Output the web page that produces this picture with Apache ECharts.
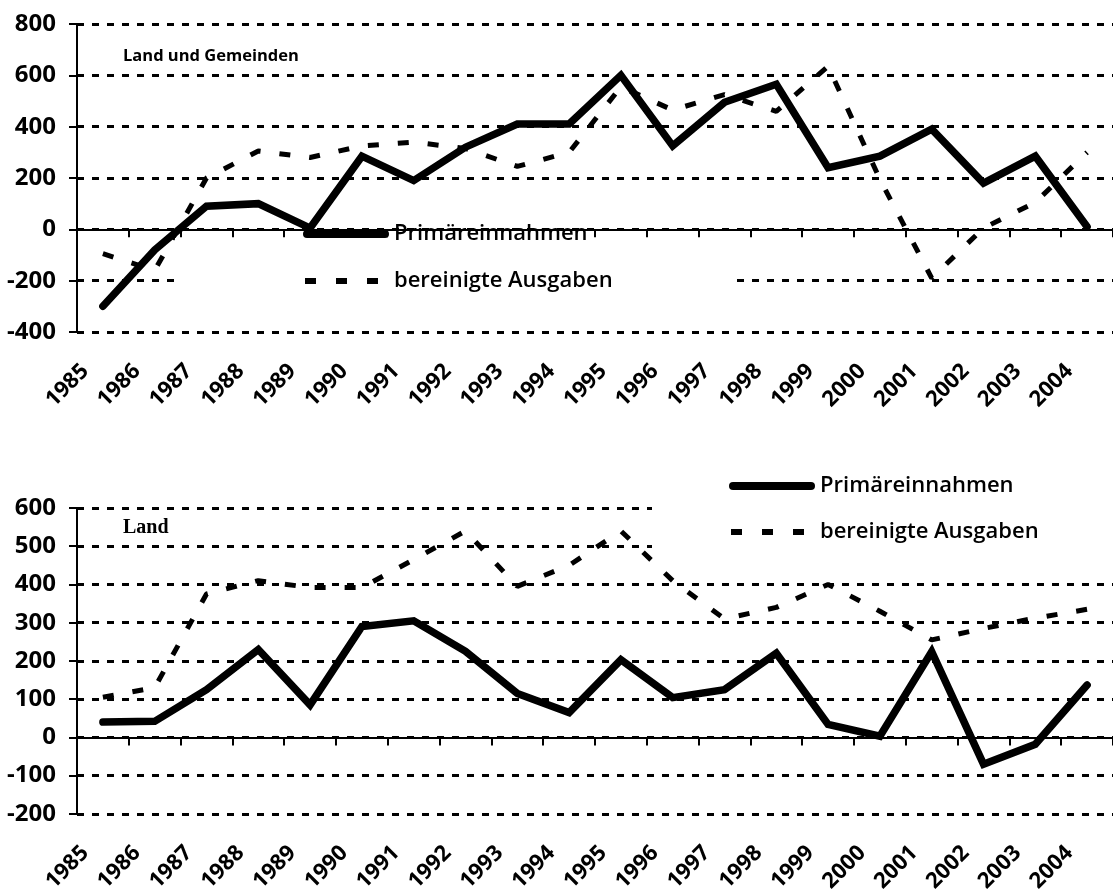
<!DOCTYPE html>
<html><head><meta charset="utf-8">
<script src="https://cdn.jsdelivr.net/npm/echarts@6/dist/echarts.min.js"></script>
<style>html,body{margin:0;padding:0;background:#fff}#c{width:1113px;height:895px}</style>
</head><body><div id="c"></div>
<script>
const years = ['1985','1986','1987','1988','1989','1990','1991','1992','1993','1994','1995','1996','1997','1998','1999','2000','2001','2002','2003','2004'];
// Land und Gemeinden
const lugIncome   = [-300, -80, 90, 100, 5, 285, 190, 320, 410, 410, 600, 325, 495, 565, 240, 285, 390, 180, 285, 10];
const lugSpending = [-95, -160, 200, 305, 280, 325, 340, 315, 245, 300, 555, 465, 525, 460, 635, 195, -190, 5, 105, 300];
// Land
const landIncome   = [40, 42, 125, 230, 85, 290, 305, 225, 115, 65, 203, 104, 125, 220, 34, 3, 224, -70, -18, 137];
const landSpending = [105, 130, 375, 410, 392, 392, 465, 540, 395, 450, 540, 410, 310, 340, 400, 330, 255, 285, 312, 335];
const seriesNames = ['Primäreinnahmen', 'bereinigte Ausgaben'];
const topAxis = {min: -400, max: 800, interval: 200};
const bottomAxis = {min: -200, max: 600, interval: 100};
const panelTitles = ['Land und Gemeinden', 'Land'];

const FONT = '"Open Sans", "DejaVu Sans", sans-serif';
const chart = echarts.init(document.getElementById('c'), null, {renderer: 'canvas'});

const solidIcon = 'path://M4,0 H82 A4,4 0 0 1 82,8 H4 A4,4 0 0 1 4,0 Z';
const dashIcon = 'path://M0,0 M2,1 h11 v6 h-11 z M33,1 h11 v6 h-11 z M64,1 h11 v6 h-11 z M86,8';

function yAx(gi, sc) {
  return {
    type: 'value', gridIndex: gi, min: sc.min, max: sc.max, interval: sc.interval,
    axisLine: {show: true, lineStyle: {color: '#000', width: 2}},
    axisTick: {show: true, length: 8, lineStyle: {color: '#000', width: 2}},
    axisLabel: {color: '#000', fontFamily: FONT, fontSize: 24, fontWeight: 'bold', margin: 21},
    splitLine: {show: true, lineStyle: {color: '#000', width: 3, type: [7, 8]}}
  };
}
function xAxes(gi, yi) {
  return [
    { type: 'category', gridIndex: gi, data: years, position: 'bottom',
      axisLine: {show: false, onZero: false}, axisTick: {show: false},
      axisLabel: {interval: 0, rotate: 45, color: '#000', fontFamily: FONT, fontSize: 22, fontWeight: 'bold',
                  margin: 18, padding: [0, 25, 0, 0]},
      splitLine: {show: false} },
    { type: 'category', gridIndex: gi, data: years, position: 'bottom',
      axisLine: {show: false, onZero: true, onZeroAxisIndex: yi},
      axisTick: {show: true, length: 8, lineStyle: {color: '#000', width: 2}},
      axisLabel: {show: false}, splitLine: {show: false} },
    { type: 'category', gridIndex: gi, data: years, position: 'bottom', z: 5,
      axisLine: {show: true, onZero: true, onZeroAxisIndex: yi, lineStyle: {color: '#000', width: 2}},
      axisTick: {show: false}, axisLabel: {show: false}, splitLine: {show: false} }
  ];
}
function lineSeries(name, data, xi, yi, dashed) {
  return {
    type: 'line', name: name, data: data, xAxisIndex: xi, yAxisIndex: yi,
    symbol: 'none', symbolKeepAspect: false, color: '#000', itemStyle: {color: '#000'},
    lineStyle: dashed ? {color: '#000', width: 5, type: [11, 19], cap: 'butt'}
                      : {color: '#000', width: 7.5, cap: 'round', join: 'miter'},
    z: dashed ? 2 : 3, animation: false
  };
}
function legend(left, top, gap) {
  return {
    left: left, top: top, orient: 'vertical', itemWidth: 86, itemHeight: 8, itemGap: gap,
    padding: 0, z: 6, selectedMode: false,
    itemStyle: {color: '#000', borderWidth: 0},
    textStyle: {color: '#000', fontFamily: FONT, fontSize: 22, fontWeight: 600, lineHeight: 24},
    data: [{name: seriesNames[0], icon: solidIcon}, {name: seriesNames[1], icon: dashIcon}]
  };
}

chart.setOption({
  backgroundColor: '#fff',
  animation: false,
  grid: [
    {left: 77, right: -8, top: 24, height: 308, containLabel: false},
    {left: 77, right: -8, top: 508, height: 308, containLabel: false}
  ],
  xAxis: xAxes(0, 0).concat(xAxes(1, 1)),
  yAxis: [yAx(0, topAxis), yAx(1, bottomAxis)],
  legend: [legend(303, 222, 23), legend(729, 474, 22)],
  series: [
    lineSeries(seriesNames[0], lugIncome, 0, 0, false),
    lineSeries(seriesNames[1], lugSpending, 0, 0, true),
    lineSeries(seriesNames[0], landIncome, 3, 1, false),
    lineSeries(seriesNames[1], landSpending, 3, 1, true)
  ],
  graphic: [
    {type: 'rect', z: 4, silent: true, shape: {x: 175, y: 238, width: 560, height: 62}, style: {fill: '#fff'}},
    {type: 'rect', z: 4, silent: true, shape: {x: 388, y: 231, width: 192, height: 9}, style: {fill: '#fff'}},
    {type: 'rect', z: 4, silent: true, shape: {x: 652, y: 465, width: 470, height: 87}, style: {fill: '#fff'}},
    {type: 'text', z: 7, x: 123, y: 56, style: {text: panelTitles[0], font: 'bold 16.5px "Open Sans", sans-serif', fill: '#000', verticalAlign: 'middle'}},
    {type: 'text', z: 7, x: 123, y: 528, style: {text: panelTitles[1], font: 'bold 20px "Liberation Serif", "Times New Roman", serif', fill: '#000', verticalAlign: 'middle'}}
  ]
});
</script></body></html>
